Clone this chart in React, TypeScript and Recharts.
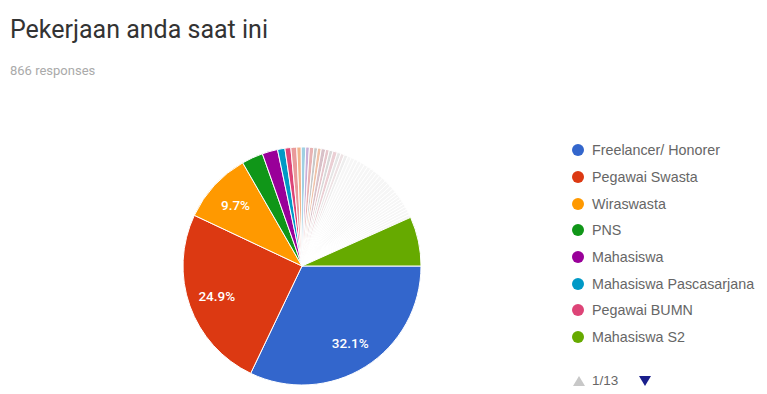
import React from "react";
import { PieChart, Pie, Cell, Legend } from "recharts";

// legend entries (page 1 of 13)
const categories = [
  "Freelancer/ Honorer",
  "Pegawai Swasta",
  "Wiraswasta",
  "PNS",
  "Mahasiswa",
  "Mahasiswa Pascasarjana",
  "Pegawai BUMN",
  "Mahasiswa S2",
];
const colors = ["#3366cc", "#dc3912", "#ff9900", "#109618", "#990099", "#0099c6", "#dd4477", "#66aa00"];

// shares in percent
const mainShares = [32.1, 24.9, 9.7, 2.9, 2.1, 1.0, 0.8];
const lastShare = 6.7;
// the many tiny answers between the pink slice and the light green one
const otherShares = [
  0.8, 0.6, 0.6, 0.5, 0.6, 0.5, 0.5, 0.6, 0.5, 0.5, 0.6, 0.5, 0.5, 0.5, 0.5, 0.5, 0.5, 0.5, 0.5, 0.5,
  0.5, 0.5, 0.5, 0.5, 0.5, 0.5, 0.5, 0.5, 0.5, 0.5, 0.4, 0.4, 0.4, 0.4, 0.4, 0.4, 0.4, 0.4, 0.4, 0.4,
];
const otherColors = [
  "#e99a9a", "#f2b48c", "#9fd0e2", "#c9b0d8", "#e8b3b3", "#c8c8c8", "#f0c2a8", "#d8c0c8",
  "#e6c6cc", "#d9d9d9", "#ebcfd4", "#e6e6e6", "#eee2e4", "#eeeeee",
];

const data = [
  ...mainShares.map((v, i) => ({ name: categories[i], value: v, color: colors[i] })),
  ...otherShares.map((v, i) => ({ name: `lain ${i + 1}`, value: v, color: otherColors[i] ?? "#f6f6f6" })),
  { name: categories[7], value: lastShare, color: colors[7] },
];

const RAD = Math.PI / 180;

const renderLabel = (p: any) => {
  if (p.value < 9) return null;
  const r = p.outerRadius * 0.76;
  const x = p.cx + r * Math.cos(-p.midAngle * RAD);
  const y = p.cy + r * Math.sin(-p.midAngle * RAD);
  return (
    <text
      x={x}
      y={y}
      fill="#fff"
      fontSize={13.5}
      fontWeight={500}
      textAnchor="middle"
      dominantBaseline="central"
      fontFamily="Roboto, Arial"
    >
      {`${p.value}%`}
    </text>
  );
};

const renderLegend = () => (
  <div style={{ fontFamily: "Arial, 'Liberation Sans'", fontSize: 14.3, color: "#666" }}>
    {categories.map((c, i) => (
      <div key={c} style={{ height: 26.7, display: "flex", alignItems: "center" }}>
        <span
          style={{ width: 12, height: 12, borderRadius: "50%", background: colors[i], display: "inline-block", marginRight: 8 }}
        />
        {c}
      </div>
    ))}
    <div style={{ height: 26.7, marginTop: 17, display: "flex", alignItems: "center" }}>
      <svg width={14} height={12} style={{ marginRight: 6 }}>
        <polygon points="7,1 13,11 1,11" fill="#c8c8c8" />
      </svg>
      <span style={{ marginRight: 20, fontSize: 13.5 }}>1/13</span>
      <svg width={14} height={12}>
        <polygon points="1,1 13,1 7,11" fill="#1a1f8c" />
      </svg>
    </div>
  </div>
);

export default function App() {
  return (
    <div style={{ position: "absolute", left: 0, top: 0, width: 767, height: 394, background: "#fff", overflow: "hidden" }}>
      <div style={{ position: "absolute", left: 10, top: 15, fontFamily: "Roboto, Arial", fontSize: 25, color: "#333" }}>
        Pekerjaan anda saat ini
      </div>
      <div style={{ position: "absolute", left: 10, top: 63, fontFamily: "Roboto, Arial", fontSize: 13, color: "#aaa" }}>
        866 responses
      </div>
      <PieChart
        width={767}
        height={394}
        margin={{ top: 0, right: 0, bottom: 0, left: 0 }}
        style={{ position: "absolute", left: 0, top: 0 }}
      >
        <Pie
          data={data}
          dataKey="value"
          nameKey="name"
          cx={302}
          cy={266}
          outerRadius={119}
          startAngle={0}
          endAngle={-360}
          stroke="#fff"
          strokeWidth={1}
          label={renderLabel}
          labelLine={false}
          isAnimationActive={false}
        >
          {data.map((d) => (
            <Cell key={d.name} fill={d.color} />
          ))}
        </Pie>
        <Legend
          content={renderLegend}
          wrapperStyle={{ position: "absolute", left: 572, top: 137, width: 195 }}
        />
      </PieChart>
    </div>
  );
}
